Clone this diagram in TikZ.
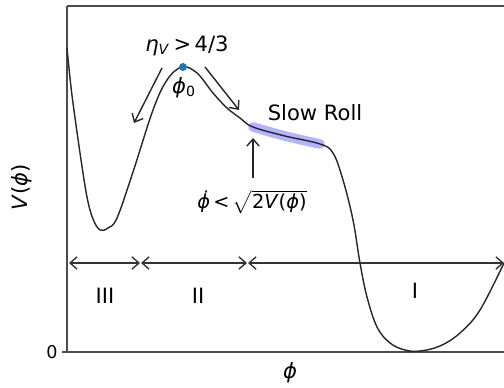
\documentclass[tikz,border=0pt]{standalone}
\usepackage{amsmath}
\usepackage{fontspec}
\setmainfont{DejaVu Sans}
\usetikzlibrary{arrows.meta}
\newcommand{\vphi}{\textit{ϕ}}

\begin{document}
\begin{tikzpicture}[x=0.02cm,y=-0.02cm,
	frame/.style={draw=black!70,line width=0.9pt},
	pot/.style={line width=0.8pt,black!85},
	note/.style={font=\fontsize{12}{14}\selectfont},
	span/.style={<->,>={Straight Barb[length=4pt,width=7pt]},line width=0.8pt,black!80},
	hint/.style={->,>={Straight Barb[length=4pt,width=7pt]},line width=0.8pt,black!85}]
	\useasboundingbox (0,0) rectangle (504,388);
	% axes
	\draw[frame](67,6)--(67,352)--(504,352);
	\draw[frame](67,6)--(504,6);
	\draw[frame](62,352)--(67,352);
	\node[font=\fontsize{10}{12}\selectfont] (zero) at (52,352) {0};
	\node[note,rotate=90] (ylab) at (22,187) {\textit{V}(\vphi)};
	\node[note] (xlab) at (290,373) {\vphi};
	% slow roll band
	\draw[line width=5.5pt,blue!75,opacity=0.4,line cap=round]
		plot[smooth,tension=0.6] coordinates {(253,127) (285,136) (320,144)};
	% potential
	\draw[pot] plot[smooth,tension=0.6] coordinates {
		(67,48) (70,78) (73,103) (80,153) (87,197) (93,219) (100,230) (108,228)
		(117,218) (133,172) (153,110) (167,80) (182,67) (197,73) (213,93)
		(227,108) (240,118) (253,127) (285,136) (320,144) (333,153) (343,180)
		(353,220) (360,263) (367,297) (377,327) (390,343) (405,350) (420,351)
		(440,346) (460,333) (480,310) (504,263)};
	\fill[color={rgb,255:red,31;green,119;blue,180}] (183,67) circle(4);
	% labels on top
	\node[note] (eta) at (187,46) {\textit{η}\textsubscript{\textit{V}}\,>\,4/3};
	\node[note] (phi0) at (184,88) {\vphi\textsubscript{0}};
	\node[note] (slow) at (315,113) {Slow Roll};
	\node[note,font=\fontsize{11}{13}\selectfont] (cond) at (252,202)
		{\textit{ϕ̇}\,<\,$\sqrt{\text{2\textit{V}(\vphi)}}$};
	\coordinate (la) at (162,68);
	\coordinate (lb) at (134,123);
	\coordinate (ra) at (205,67);
	\coordinate (rb) at (239,110);
	\coordinate (ca) at (253,178);
	\coordinate (cb) at (253,138);
	\draw[hint](la)--(lb);
	\draw[hint](ra)--(rb);
	\draw[hint](ca)--(cb);
	% regions
	\coordinate (r0) at (69,263);
	\coordinate (r1) at (140,263);
	\coordinate (r2) at (141,263);
	\coordinate (r3) at (247,263);
	\coordinate (r4) at (248,263);
	\coordinate (r5) at (504,263);
	\draw[span](r0)--(r1);
	\draw[span](r2)--(r3);
	\draw[span](r4)--(r5);
	\node[note] (three) at (105,296) {III};
	\node[note] (two) at (198,296) {II};
	\node[note] (one) at (415,291) {I};
\end{tikzpicture}
\end{document}
